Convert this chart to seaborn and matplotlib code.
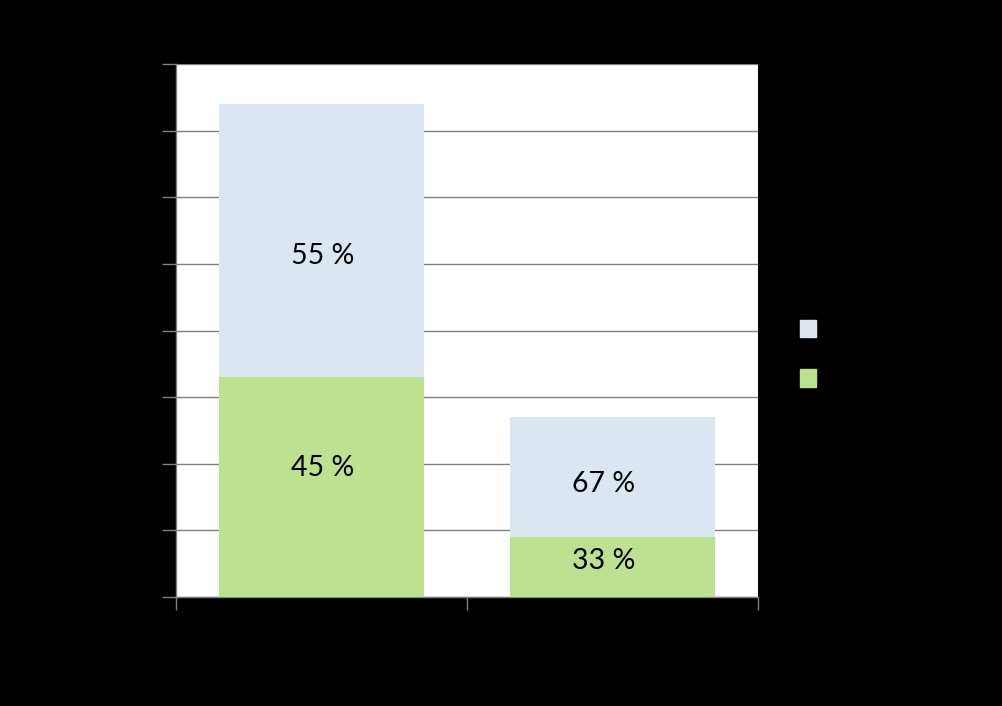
import matplotlib
matplotlib.use("Agg")
import matplotlib.pyplot as plt
import matplotlib.patches as mpatches
import seaborn as sns
import pandas as pd

# ---- data ----
categories = ["Gruppe 1", "Gruppe 2"]
green_values = [33, 9]      # lower segment
blue_values = [41, 18]      # upper segment
series_names = ["Serie 2", "Serie 1"]   # legend order: blue, green
y_ticks = [0, 10, 20, 30, 40, 50, 60, 70, 80]

blue_color = "#DCE6F2"
green_color = "#BCE191"
grid_color = "#808080"

# manual label nudges (pixels, dx, dy upward) as placed in the original
green_label_nudge = [(1, 19), (-9, 6)]
blue_label_nudge = [(1, -15), (-9, -7)]

totals = [g + b for g, b in zip(green_values, blue_values)]
df = pd.DataFrame({"cat": categories, "green": green_values,
                   "blue": blue_values, "total": totals})

sns.set_theme(style="white")
plt.rcParams["font.family"] = ["Lato", "DejaVu Sans"]

fig = plt.figure(figsize=(10.02, 7.06), dpi=100, facecolor="black")
ax = fig.add_axes([176 / 1002, 1 - 597 / 706, 582 / 1002, 533 / 706])
ax.set_facecolor("white")

sns.barplot(data=df, x="cat", y="total", color=blue_color, width=0.705,
            saturation=1, ax=ax, zorder=3, linewidth=0)
sns.barplot(data=df, x="cat", y="green", color=green_color, width=0.705,
            saturation=1, ax=ax, zorder=3, linewidth=0)

ax.set_ylim(y_ticks[0], y_ticks[-1])
ax.set_yticks(y_ticks)
ax.set_xlim(-0.5, len(categories) - 0.5)
ax.yaxis.grid(True, color=grid_color, linewidth=1, zorder=0)
ax.set_axisbelow(True)

# category boundaries as major ticks, names as minor ticks
ax.set_xticks([i - 0.5 for i in range(len(categories) + 1)])
ax.set_xticklabels([""] * (len(categories) + 1))
ax.set_xticks(range(len(categories)), minor=True)
ax.set_xticklabels(categories, minor=True, color="black", fontsize=16)
ax.tick_params(axis="x", which="major", direction="out", length=9,
               width=1, color=grid_color, bottom=True)
ax.tick_params(axis="x", which="minor", length=0, bottom=True)
ax.tick_params(axis="y", direction="out", length=10, width=1,
               color=grid_color, left=True, labelcolor="black", labelsize=16)
ax.set_xlabel("")
ax.set_ylabel("")

for side in ["top", "right"]:
    ax.spines[side].set_visible(False)
for side in ["left", "bottom"]:
    ax.spines[side].set_color(grid_color)
    ax.spines[side].set_linewidth(1)

# percentage labels
px = 72 / 100
for i, (g, b) in enumerate(zip(green_values, blue_values)):
    t = g + b
    pg = round(100 * g / t)
    pb = 100 - pg
    gx, gy = green_label_nudge[i]
    bx, by = blue_label_nudge[i]
    ax.annotate(f"{pg} %", xy=(i, g / 2), xytext=(gx * px, gy * px),
                textcoords="offset points", ha="center", va="center",
                fontsize=20.5, color="black", zorder=5)
    ax.annotate(f"{pb} %", xy=(i, g + b / 2), xytext=(bx * px, by * px),
                textcoords="offset points", ha="center", va="center",
                fontsize=20.5, color="black", zorder=5)

handles = [mpatches.Patch(color=blue_color, label=series_names[0]),
           mpatches.Patch(color=green_color, label=series_names[1])]
leg = fig.legend(handles=handles, loc="upper left",
                 bbox_to_anchor=(800 / 1002, 1 - 317 / 706),
                 frameon=False, fontsize=20, handlelength=0.58,
                 handleheight=0.58, labelspacing=0.86, handletextpad=0.6,
                 borderpad=0, borderaxespad=0, labelcolor="black")

fig.savefig("out.png", dpi=100, facecolor="black")
